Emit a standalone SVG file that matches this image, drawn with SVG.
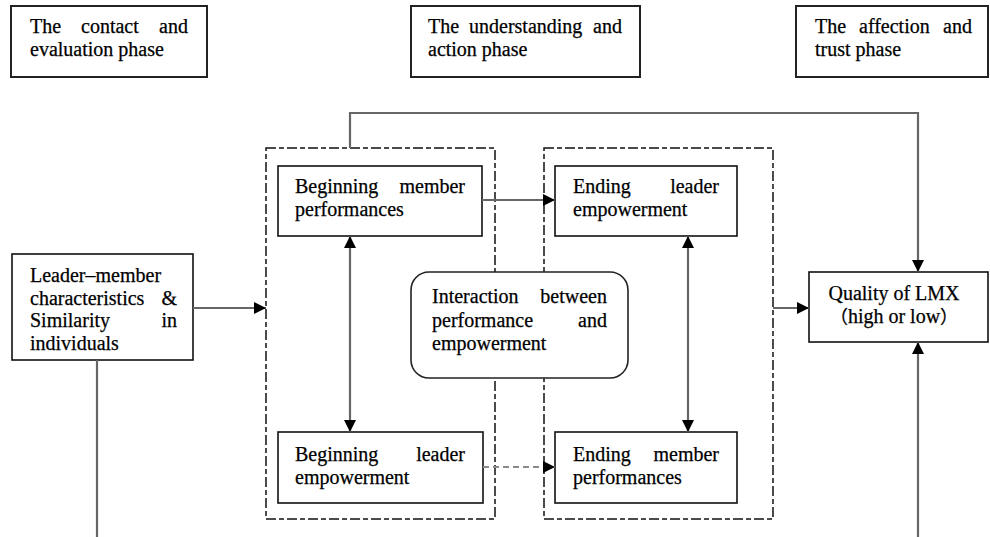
<svg xmlns="http://www.w3.org/2000/svg" width="990" height="537" viewBox="0 0 990 537">
  <defs>
    <style>
      .box { fill: #fff; stroke: #111; stroke-width: 1.6; }
      .phase { fill: #fff; stroke: #222; stroke-width: 2; }
      .group { fill: none; stroke: #111; stroke-width: 1.5; stroke-dasharray: 10 3 5 3; }
      .round { fill: #fff; stroke: #222; stroke-width: 1.6; }
      .conn { fill: none; stroke: #666; stroke-width: 2.2; }
      .dash { stroke-dasharray: 6 4; stroke: #8a8a8a; }
      text { font-family: "Liberation Serif", "Times New Roman", serif; font-size: 20px; fill: #000; stroke: #000; stroke-width: 0.25; }
      .end { text-anchor: end; }
      .mid { text-anchor: middle; }
    </style>
    <marker id="arrow" markerUnits="userSpaceOnUse" markerWidth="14" markerHeight="14" refX="12" refY="6" orient="auto-start-reverse">
      <path d="M0,0 L12,6 L0,12 Z" fill="#000"/>
    </marker>
  </defs>

  <!-- phase headers -->
  <g id="phase-contact">
    <rect class="phase" x="11" y="6" width="196" height="71"/>
    <text y="33"><tspan x="30">The</tspan><tspan x="81">contact</tspan></text>
    <text class="end" x="188" y="33">and</text>
    <text x="30" y="56">evaluation phase</text>
  </g>
  <g id="phase-understanding">
    <rect class="phase" x="411" y="6" width="229" height="71"/>
    <text y="33"><tspan x="428">The</tspan><tspan x="469">understanding</tspan></text>
    <text class="end" x="622" y="33">and</text>
    <text x="428" y="56">action phase</text>
  </g>
  <g id="phase-affection">
    <rect class="phase" x="796" y="6" width="192" height="71"/>
    <text y="33"><tspan x="815">The</tspan><tspan x="859">affection</tspan></text>
    <text class="end" x="972" y="33">and</text>
    <text x="815" y="56">trust phase</text>
  </g>

  <!-- dashed stage containers -->
  <g id="stage-beginning">
    <rect class="group" x="266" y="148" width="229" height="371"/>
  </g>
  <g id="stage-ending">
    <rect class="group" x="544" y="148" width="229" height="371"/>
  </g>

  <!-- antecedents -->
  <g id="characteristics">
    <rect class="box" x="12" y="254" width="181" height="106"/>
    <text x="30" y="282">Leader–member</text>
    <text x="30" y="305">characteristics</text>
    <text class="end" x="177" y="305">&amp;</text>
    <text x="30" y="327">Similarity</text>
    <text class="end" x="177" y="327">in</text>
    <text x="30" y="350">individuals</text>
  </g>

  <g id="beginning-member">
    <rect class="box" x="278" y="166" width="204" height="70"/>
    <text x="295" y="193">Beginning</text>
    <text class="end" x="465" y="193">member</text>
    <text x="295" y="216">performances</text>
  </g>
  <g id="ending-leader">
    <rect class="box" x="555" y="166" width="182" height="70"/>
    <text x="573" y="193">Ending</text>
    <text class="end" x="719" y="193">leader</text>
    <text x="573" y="216">empowerment</text>
  </g>
  <g id="beginning-leader">
    <rect class="box" x="278" y="432" width="205" height="71"/>
    <text x="295" y="461">Beginning</text>
    <text class="end" x="465" y="461">leader</text>
    <text x="295" y="484">empowerment</text>
  </g>
  <g id="ending-member">
    <rect class="box" x="555" y="432" width="182" height="71"/>
    <text x="573" y="461">Ending</text>
    <text class="end" x="719" y="461">member</text>
    <text x="573" y="484">performances</text>
  </g>

  <g id="interaction">
    <rect class="round" x="411" y="272" width="217" height="106" rx="18" ry="18"/>
    <text x="432" y="303">Interaction</text>
    <text class="end" x="607" y="303">between</text>
    <text x="432" y="327">performance</text>
    <text class="end" x="607" y="327">and</text>
    <text x="432" y="350">empowerment</text>
  </g>

  <g id="lmx-quality">
    <rect class="box" x="809" y="272" width="179" height="70"/>
    <text class="mid" x="894" y="300">Quality of LMX</text>
    <text class="mid" x="894" y="323" style="font-family: 'Noto Sans CJK SC', 'Liberation Serif', serif; font-size: 18px"><tspan>（</tspan><tspan style="font-family: 'Liberation Serif', serif; font-size: 20px">high or low</tspan><tspan>）</tspan></text>
  </g>

  <!-- connectors -->
  <g id="connectors">
    <line class="conn" x1="193" y1="308" x2="266" y2="308" marker-end="url(#arrow)"/>
    <line class="conn" x1="97" y1="360" x2="97" y2="537"/>
    <polyline class="conn" points="350,148 350,113 918,113 918,272" marker-end="url(#arrow)"/>
    <line class="conn" x1="918" y1="537" x2="918" y2="342" marker-end="url(#arrow)"/>
    <line class="conn" x1="482" y1="200" x2="555" y2="200" marker-end="url(#arrow)"/>
    <line class="conn dash" x1="483" y1="467" x2="555" y2="467" marker-end="url(#arrow)"/>
    <line class="conn" x1="350" y1="236" x2="350" y2="432" marker-start="url(#arrow)" marker-end="url(#arrow)"/>
    <line class="conn" x1="688" y1="236" x2="688" y2="432" marker-start="url(#arrow)" marker-end="url(#arrow)"/>
    <line class="conn" x1="773" y1="308" x2="809" y2="308" marker-end="url(#arrow)"/>
  </g>
</svg>
